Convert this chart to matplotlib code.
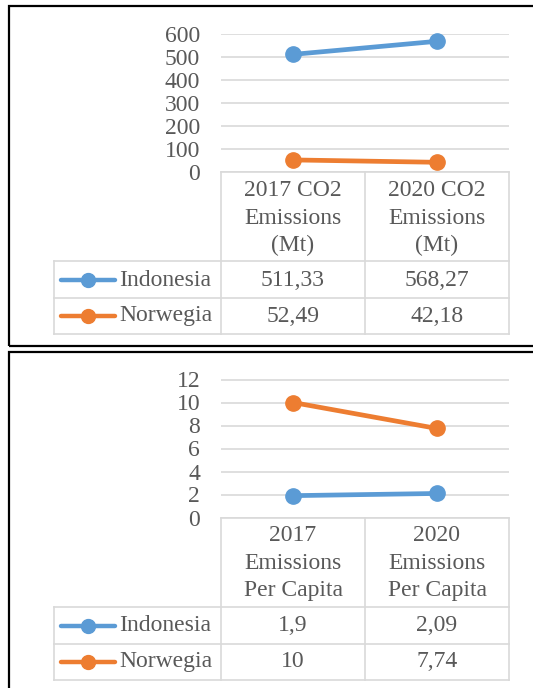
import matplotlib
matplotlib.use('Agg')
import matplotlib.pyplot as plt
from matplotlib.patches import Rectangle

plt.rcParams['font.family'] = ['Liberation Serif', 'DejaVu Serif']

series = ['Indonesia', 'Norwegia']
colors = ['#5B9BD5', '#ED7D31']
text_color = '#595959'
grid_color = '#D9D9D9'

co2_cols = ['2017 CO2\nEmissions\n(Mt)', '2020 CO2\nEmissions\n(Mt)']
co2_indonesia = [511.33, 568.27]
co2_norwegia = [52.49, 42.18]
co2_ticks = [0, 100, 200, 300, 400, 500, 600]

cap_cols = ['2017\nEmissions\nPer Capita', '2020\nEmissions\nPer Capita']
cap_indonesia = [1.9, 2.09]
cap_norwegia = [10, 7.74]
cap_ticks = [0, 2, 4, 6, 8, 10, 12]

W, H = 533, 688
fig = plt.figure(figsize=(W / 100, H / 100), dpi=100)


def box(x0, y0, x1, y1):
    # pixel box (top-left origin) -> figure fraction rect
    return [x0 / W, 1 - y1 / H, (x1 - x0) / W, (y1 - y0) / H]


def fmt(v):
    return f'{v:g}'.replace('.', ',')


def panel(off, cols, values, ticks):
    # line chart
    ax = fig.add_axes(box(221, 34 + off, 509, 172 + off))
    x = list(range(len(cols)))
    for name, vals, c in zip(series, values, colors):
        ax.plot(x, vals, color=c, lw=3.4, marker='o', ms=11,
                solid_capstyle='round', zorder=3, clip_on=False)
    ax.set_xlim(-0.5, len(cols) - 0.5)
    ax.set_ylim(ticks[0], ticks[-1])
    ax.set_yticks(ticks)
    ax.set_xticks([])
    ax.yaxis.grid(True, color=grid_color, lw=1.2)
    ax.set_axisbelow(True)
    for s in ax.spines.values():
        s.set_visible(False)
    ax.tick_params(axis='y', length=0, pad=15, labelsize=17,
                   labelcolor=text_color)

    # data table under the chart, pixel coordinates
    tx = fig.add_axes(box(54, 172 + off, 509, 334 + off))
    tx.set_xlim(54, 509)
    tx.set_ylim(334, 172)
    tx.axis('off')
    kw = dict(color=grid_color, lw=1.2, clip_on=False)
    tx.plot([221, 509], [172, 172], **kw)
    for yy in (261, 298, 334):
        tx.plot([54, 509], [yy, yy], **kw)
    for xx in (221, 365, 509):
        tx.plot([xx, xx], [172, 334], **kw)
    tx.plot([54, 54], [261, 334], **kw)

    centers = [293, 437]
    for cx, label in zip(centers, cols):
        for ly, line in zip((190, 218, 245), label.split('\n')):
            tx.text(cx, ly, line, ha='center', va='center', fontsize=17,
                    color=text_color)

    for ry, name, vals, c in zip((280, 316), series, values, colors):
        tx.plot([61, 115], [ry, ry], color=c, lw=3.2,
                solid_capstyle='round', clip_on=False)
        tx.plot([88], [ry], 'o', color=c, ms=10, clip_on=False)
        tx.text(119, ry, name, ha='left', va='center', fontsize=17,
                color=text_color)
        for cx, v in zip(centers, vals):
            tx.text(cx, ry, fmt(v), ha='center', va='center', fontsize=17,
                    color=text_color)


panel(0, co2_cols, [co2_indonesia, co2_norwegia], co2_ticks)
panel(345.5, cap_cols, [cap_indonesia, cap_norwegia], cap_ticks)

# frames around the two charts
for y0, y1 in ((6, 346), (351.5, 700)):
    fig.add_artist(Rectangle((8.5 / W, 1 - y1 / H), (540 - 8.5) / W,
                             (y1 - y0) / H, transform=fig.transFigure,
                             fill=False, ec='black', lw=1.6))

fig.savefig('out.png', dpi=100)
